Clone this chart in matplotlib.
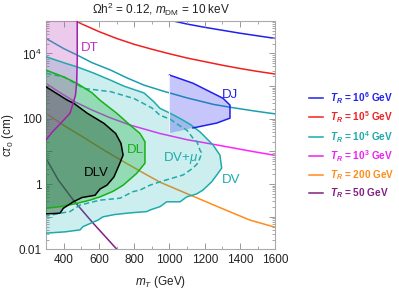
import numpy as np
import matplotlib
matplotlib.use('Agg')
import matplotlib.pyplot as plt
from matplotlib.lines import Line2D
from matplotlib.ticker import FixedLocator, FuncFormatter, NullFormatter

plt.rcParams['font.family'] = ['Liberation Sans', 'DejaVu Sans']
plt.rcParams['mathtext.fontset'] = 'custom'
plt.rcParams['mathtext.rm'] = 'Liberation Sans'
plt.rcParams['mathtext.it'] = 'Liberation Sans:italic'
plt.rcParams['mathtext.bf'] = 'Liberation Sans:bold'
plt.rcParams['mathtext.bfit'] = 'Liberation Sans:italic:bold'

# ---------------- data (m_T in GeV, log10 of c*tau0 in cm) ----------------
tr6_m = [1000, 1100, 1200, 1300, 1400, 1500, 1600]
tr6_l = [5.02, 4.90, 4.80, 4.71, 4.62, 4.54, 4.46]

tr5_m = [470, 500, 600, 700, 800, 900, 1000, 1100, 1200, 1300, 1400, 1500, 1600]
tr5_l = [4.99, 4.91, 4.67, 4.46, 4.28, 4.13, 3.99, 3.86, 3.75, 3.64, 3.54, 3.45, 3.37]

tr4_m = [300, 400, 477, 560, 667, 760, 856, 969, 1100, 1250, 1360, 1480, 1600]
tr4_l = [4.46, 4.15, 3.95, 3.72, 3.49, 3.25, 3.03, 2.84, 2.64, 2.44, 2.34, 2.24, 2.15]

tr3_m = [300, 380, 464, 560, 660, 776, 946, 1100, 1269, 1450, 1600]
tr3_l = [3.08, 2.80, 2.52, 2.27, 2.04, 1.81, 1.55, 1.36, 1.20, 1.02, 0.88]

tr200_m = [300, 400, 510, 620, 742, 846, 946, 1116, 1300, 1456, 1600]
tr200_l = [2.17, 1.80, 1.44, 1.07, 0.68, 0.36, 0.06, -0.33, -0.75, -1.10, -1.32]

tr50_m = [300, 370, 455, 568, 701, 715]
tr50_l = [0.79, 0.125, -0.49, -1.20, -1.99, -2.08]

# DT region boundary
dt_m = [477, 477, 474, 467, 459, 436, 385, 336, 300]
dt_l = [5.05, 3.80, 3.12, 2.72, 2.57, 2.17, 1.87, 1.60, 1.35]

# DV region (closed)
dv_m = [300, 410, 476, 570, 667, 742, 856, 912, 946, 1000, 1060, 1120, 1173, 1247, 1286,
        1296, 1268, 1239, 1190, 1154, 1098, 1060, 984, 946, 890, 871, 776, 690, 623,
        595, 510, 493, 408, 300]
dv_l = [3.90, 3.70, 3.59, 3.40, 3.18, 3.00, 2.79, 2.52, 2.32, 2.18, 2.01, 1.82, 1.60, 1.20, 0.89,
        0.49, 0.28, 0.07, -0.18, -0.30, -0.39, -0.54, -0.54, -0.69, -0.79, -0.84, -0.88, -0.93, -1.00,
        -1.10, -1.30, -1.40, -1.46, -1.50]

# DV + mu boundary (dashed)
dvmu_m = [300, 402, 515, 667, 799, 901, 946, 1003, 1060, 1099, 1133, 1156, 1173, 1183,
          1162, 1133, 1077, 1020, 946, 890, 833, 793, 720, 606, 493, 436, 379, 300]
dvmu_l = [3.39, 3.28, 2.93, 2.83, 2.62, 2.33, 2.11, 1.99, 1.78, 1.65, 1.41, 1.29, 1.04, 0.95,
          0.65, 0.49, 0.28, 0.19, 0.07, -0.03, -0.18, -0.23, -0.43, -0.49, -0.64, -0.84, -0.89, -0.98]

# DL region (closed)
dl_m = [300, 402, 477, 560, 606, 701, 776, 833, 861, 861, 814, 738, 680, 606, 549, 474, 379, 300]
dl_l = [3.49, 3.28, 3.08, 2.80, 2.57, 2.17, 1.81, 1.55, 1.30, 0.64, 0.33, -0.03, -0.22, -0.39, -0.49, -0.59, -0.69, -0.74]

# DLV region (closed)
dlv_m = [300, 421, 459, 534, 629, 695, 725, 737, 714, 685, 646, 606, 578, 504, 455, 398, 379, 300]
dlv_l = [2.98, 2.57, 2.47, 2.17, 1.86, 1.55, 1.25, 0.89, 0.58, 0.22, -0.03, -0.15, -0.34, -0.41, -0.54, -0.74, -0.89, -0.91]

# DJ region (closed)
dj_m = [1000, 1133, 1303, 1343, 1343, 1268, 1133, 1000]
dj_l = [3.34, 3.09, 2.63, 2.42, 2.02, 1.87, 1.72, 1.56]

legend_labels = [r"$\mathbfit{T}_{\mathbfit{R}}$ = 10$^{\mathbf{6}}$ GeV",
                 r"$\mathbfit{T}_{\mathbfit{R}}$ = 10$^{\mathbf{5}}$ GeV",
                 r"$\mathbfit{T}_{\mathbfit{R}}$ = 10$^{\mathbf{4}}$ GeV",
                 r"$\mathbfit{T}_{\mathbfit{R}}$ = 10$^{\mathbf{3}}$ GeV",
                 r"$\mathbfit{T}_{\mathbfit{R}}$ = 200 GeV",
                 r"$\mathbfit{T}_{\mathbfit{R}}$ = 50 GeV"]
legend_colors = ['#2222ee', '#ee2222', '#1faaaa', '#ee22ee', '#ff8c1a', '#802080']

xticks = [400, 600, 800, 1000, 1200, 1400, 1600]
yticks = [1e-2, 1e0, 1e2, 1e4]
ytick_labels = ['0.01', '1', '100', r'$10^4$']

# ---------------- figure ----------------
def c(vals):
    return np.power(10.0, np.asarray(vals, dtype=float))

fig = plt.figure(figsize=(3.99, 2.90), dpi=100)
ax = fig.add_axes([0.1153, 0.1397, 0.5747, 0.7886])
ax.set_yscale('log')
ax.set_xlim(300, 1600)
ax.set_ylim(1e-2, 1e5)

lw = 1.1
# T_R lines (beneath regions)
ax.plot(tr6_m, c(tr6_l), color='#2020f0', lw=lw, zorder=1)
ax.plot(tr5_m, c(tr5_l), color='#f02020', lw=lw, zorder=1)
ax.plot(tr4_m, c(tr4_l), color='#1a9fb0', lw=lw, zorder=1)
ax.plot(tr3_m, c(tr3_l), color='#ff22ff', lw=lw, zorder=1)
ax.plot(tr200_m, c(tr200_l), color='#ff8c1a', lw=lw, zorder=1)
ax.plot(tr50_m, c(tr50_l), color='#802080', lw=lw, zorder=1)

# regions
ax.fill(dv_m, c(dv_l), color='#00aaaa', alpha=0.2, lw=0, zorder=2)
ax.fill(dj_m, c(dj_l), color='#3333ee', alpha=0.28, lw=0, zorder=2)
ax.fill(dl_m, c(dl_l), color='#10b030', alpha=0.3, lw=0, zorder=3)
ax.fill(dlv_m, c(dlv_l), color='#2a5a3c', alpha=0.45, lw=0, zorder=4)
ax.fill_betweenx(c(dt_l), 300, dt_m, color='#c050c0', alpha=0.3, lw=0, zorder=5)

# region boundaries
ax.plot(dv_m, c(dv_l), color='#20aaaa', lw=lw, zorder=6)
ax.plot(dvmu_m, c(dvmu_l), color='#20aaaa', lw=lw, ls=(0, (3.5, 2)), zorder=6)
ax.plot(dl_m, c(dl_l), color='#18b018', lw=lw, zorder=6)
ax.plot(dlv_m, c(dlv_l), color='black', lw=lw, zorder=6)
ax.plot(dt_m, c(dt_l), color='#a020b0', lw=lw, zorder=7)
ax.plot(dj_m[:-1], c(dj_l[:-1]), color='#2020ee', lw=lw, zorder=6)
ax.plot([dj_m[0], dj_m[-1]], [c(dj_l[0]), c(dj_l[-1])], color='#eeeeff', lw=0.8, zorder=6)

# region labels
fs_lab = 9.5
ax.text(548, c(4.18), 'DT', color='#c030c0', fontsize=fs_lab, ha='center', va='center', zorder=8)
ax.text(1343, c(2.72), 'DJ', color='#2222dd', fontsize=fs_lab, ha='center', va='center', zorder=8)
ax.text(809, c(1.04), 'DL', color='#18aa18', fontsize=fs_lab, ha='center', va='center', zorder=8)
ax.text(587, c(0.35), 'DLV', color='black', fontsize=fs_lab, ha='center', va='center', zorder=8)
ax.text(1065, c(0.81), r'DV+$\mu$', color='#20aaaa', fontsize=fs_lab, ha='center', va='center', zorder=8)
ax.text(1349, c(0.13), 'DV', color='#20aaaa', fontsize=fs_lab, ha='center', va='center', zorder=8)

# axes styling
for s in ax.spines.values():
    s.set_color('#aaaaaa')
    s.set_linewidth(0.8)
ax.xaxis.set_major_locator(FixedLocator(xticks))
ax.xaxis.set_minor_locator(FixedLocator(list(range(300, 1601, 100))))
ax.yaxis.set_major_locator(FixedLocator([10.0 ** k for k in range(-2, 6)]))
ax.yaxis.set_minor_locator(FixedLocator([m * 10.0 ** k for k in range(-2, 5) for m in range(2, 10)]))
ylab = dict(zip(yticks, ytick_labels))
ax.yaxis.set_major_formatter(FuncFormatter(lambda v, p: next((lab for t, lab in ylab.items() if abs(np.log10(v) - np.log10(t)) < 1e-6), '')))
ax.yaxis.set_minor_formatter(NullFormatter())
ax.tick_params(which='both', direction='in', top=True, right=True, color='#999999',
               labelsize=8.5, labelcolor='#222222', pad=3)
ax.tick_params(which='major', length=4, width=0.7)
ax.tick_params(which='minor', length=2, width=0.6)

ax.set_title(r'$\Omega$h$^2$ = 0.12, $m_{\rm DM}$ = 10 keV', fontsize=8.5, color='#222222', pad=5)
ax.set_xlabel(r'$m_T$ (GeV)', fontsize=8.5, color='#222222', labelpad=6)
ax.set_ylabel(r'c$\tau_0$ (cm)', fontsize=8.5, color='#222222', labelpad=2)

# legend (manual, in figure pixels)
W, H = 399.0, 290.0
leg_y = [98.3, 117.3, 136.7, 156.0, 175.0, 193.0]
for yy, lab, col in zip(leg_y, legend_labels, legend_colors):
    fig.add_artist(Line2D([309 / W, 323 / W], [1 - yy / H, 1 - yy / H], color=col, lw=1.1))
    fig.text(330 / W, 1 - yy / H, lab, color=col, fontsize=7.2, fontweight='bold', va='center', ha='left')

fig.savefig('out.png', dpi=100)
